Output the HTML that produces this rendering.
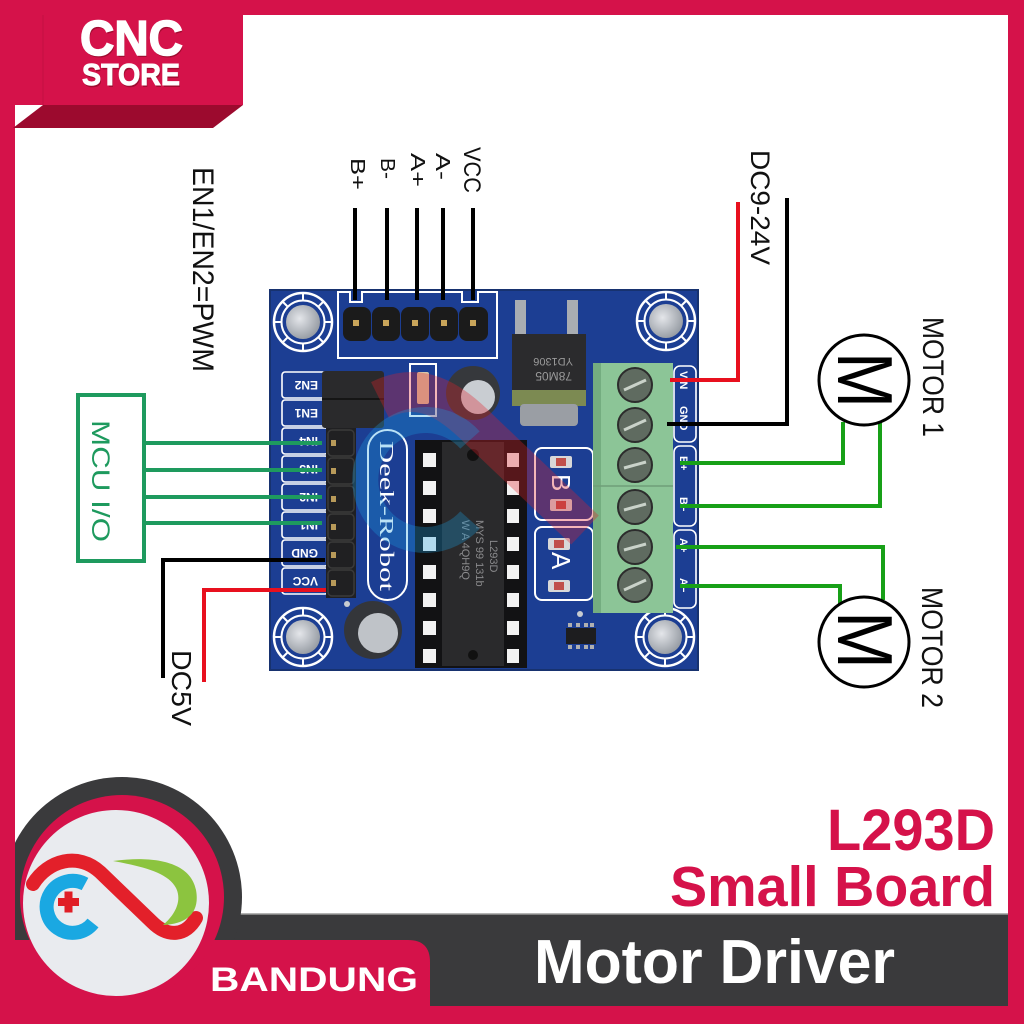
<!DOCTYPE html>
<html><head><meta charset="utf-8"><style>
html,body{margin:0;padding:0;background:#fff;width:1024px;height:1024px;overflow:hidden}
svg{display:block}
text{font-family:"Liberation Sans",sans-serif}
</style></head><body>
<svg width="1024" height="1024" viewBox="0 0 1024 1024" xmlns="http://www.w3.org/2000/svg">
<defs>
<radialGradient id="hg" cx="0.4" cy="0.4" r="0.7"><stop offset="0" stop-color="#e4e6ea"/><stop offset="1" stop-color="#8e949c"/></radialGradient>
<g id="hole">
<circle r="29" fill="none" stroke="#fff" stroke-width="2.5"/>
<circle r="21.5" fill="none" stroke="#fff" stroke-width="2"/>
<g stroke="#fff" stroke-width="2">
<line x1="21" y1="0" x2="29" y2="0"/><line x1="-21" y1="0" x2="-29" y2="0"/>
<line x1="0" y1="21" x2="0" y2="29"/><line x1="0" y1="-21" x2="0" y2="-29"/>
<line x1="15" y1="15" x2="20.5" y2="20.5"/><line x1="-15" y1="15" x2="-20.5" y2="20.5"/>
<line x1="15" y1="-15" x2="20.5" y2="-20.5"/><line x1="-15" y1="-15" x2="-20.5" y2="-20.5"/>
</g>
<circle r="17" fill="url(#hg)"/>
</g>
</defs>

<rect width="1024" height="1024" fill="#fff"/>

<!-- ===== Top-left labels ===== -->
<text transform="translate(193,167) rotate(90)" font-size="30" textLength="205" lengthAdjust="spacingAndGlyphs" fill="#111">EN1/EN2=PWM</text>
<text transform="translate(351,158) rotate(90)" font-size="20" textLength="32" lengthAdjust="spacingAndGlyphs" fill="#111">B+</text>
<text transform="translate(381,158) rotate(90)" font-size="20" textLength="21" lengthAdjust="spacingAndGlyphs" fill="#111">B-</text>
<text transform="translate(411,153) rotate(90)" font-size="20" textLength="34" lengthAdjust="spacingAndGlyphs" fill="#111">A+</text>
<text transform="translate(436,153) rotate(90)" font-size="20" textLength="27" lengthAdjust="spacingAndGlyphs" fill="#111">A-</text>
<text transform="translate(464,147) rotate(90)" font-size="24" textLength="46" lengthAdjust="spacingAndGlyphs" fill="#111">VCC</text>

<!-- ===== PCB ===== -->
<rect x="270" y="290" width="428" height="380" fill="#1c3e93"/>
<rect x="270" y="290" width="428" height="380" fill="none" stroke="#17326f" stroke-width="2"/>
<use href="#hole" x="303" y="322"/>
<use href="#hole" x="666" y="321"/>
<use href="#hole" x="303" y="637"/>
<use href="#hole" x="665" y="637"/>

<!-- header outline -->
<path d="M338 292 H350 V302 H362 V292 H462 V302 H478 V292 H497 V358 H338 Z" fill="none" stroke="#fff" stroke-width="2"/>
<g fill="#1b1b1b">
<rect x="343" y="307" width="28" height="34" rx="8"/>
<rect x="372" y="307" width="28" height="34" rx="8"/>
<rect x="401" y="307" width="28" height="34" rx="8"/>
<rect x="430" y="307" width="28" height="34" rx="8"/>
<rect x="459" y="307" width="29" height="34" rx="8"/>
</g>
<g fill="#c9a55a">
<rect x="353" y="320" width="6" height="6"/><rect x="383" y="320" width="6" height="6"/>
<rect x="412" y="320" width="6" height="6"/><rect x="441" y="320" width="6" height="6"/>
<rect x="470" y="320" width="6" height="6"/>
</g>

<!-- regulator -->
<rect x="515" y="300" width="11" height="40" fill="#a9adb2"/>
<rect x="567" y="300" width="11" height="40" fill="#a9adb2"/>
<rect x="512" y="334" width="74" height="58" fill="#2b2b2d"/>
<rect x="512" y="390" width="74" height="16" fill="#7c8a52"/>
<rect x="520" y="404" width="58" height="22" rx="4" fill="#9a9ea4"/>
<text transform="translate(573,358) rotate(180)" font-size="11" fill="#9a9a9a">YD1306</text>
<text transform="translate(572,372) rotate(180)" font-size="12" fill="#9a9a9a">78M05</text>

<!-- top cap -->
<circle cx="473" cy="393" r="27" fill="#36383c"/>
<circle cx="478" cy="397" r="17" fill="#c9cdd2"/>

<!-- SMD -->
<rect x="410" y="364" width="26" height="52" fill="none" stroke="#fff" stroke-width="2"/>
<rect x="417" y="372" width="12" height="32" rx="2" fill="#d8c8a8"/>

<!-- left labels -->
<g fill="none" stroke="#fff" stroke-width="1.6">
<rect x="282" y="372" width="46" height="26" rx="3"/>
<rect x="282" y="400" width="46" height="26" rx="3"/>
<rect x="282" y="428" width="46" height="26" rx="3"/>
<rect x="282" y="456" width="46" height="26" rx="3"/>
<rect x="282" y="484" width="46" height="26" rx="3"/>
<rect x="282" y="512" width="46" height="26" rx="3"/>
<rect x="282" y="540" width="46" height="26" rx="3"/>
<rect x="282" y="568" width="46" height="26" rx="3"/>
</g>
<g fill="#fff" font-size="12" font-weight="bold">
<text transform="translate(318,381) rotate(180)">EN2</text>
<text transform="translate(318,409) rotate(180)">EN1</text>
<text transform="translate(318,437) rotate(180)">IN4</text>
<text transform="translate(318,465) rotate(180)">IN3</text>
<text transform="translate(318,493) rotate(180)">IN2</text>
<text transform="translate(318,521) rotate(180)">IN1</text>
<text transform="translate(318,549) rotate(180)">GND</text>
<text transform="translate(318,577) rotate(180)">VCC</text>
</g>
<!-- jumper -->
<rect x="322" y="371" width="62" height="57" rx="3" fill="#2a2a2c"/>
<line x1="322" y1="399" x2="384" y2="399" stroke="#151515" stroke-width="2"/>
<!-- pin column -->
<rect x="326" y="428" width="30" height="170" fill="#202022"/>
<g fill="none" stroke="#3a3a3a" stroke-width="1.5">
<rect x="328" y="430" width="26" height="26" rx="4"/><rect x="328" y="458" width="26" height="26" rx="4"/>
<rect x="328" y="486" width="26" height="26" rx="4"/><rect x="328" y="514" width="26" height="26" rx="4"/>
<rect x="328" y="542" width="26" height="26" rx="4"/><rect x="328" y="570" width="26" height="26" rx="4"/>
</g>
<g fill="#b89a5a">
<rect x="331" y="440" width="5" height="6"/><rect x="331" y="468" width="5" height="6"/>
<rect x="331" y="496" width="5" height="6"/><rect x="331" y="524" width="5" height="6"/>
<rect x="331" y="552" width="5" height="6"/><rect x="331" y="580" width="5" height="6"/>
</g>

<!-- Deek-Robot -->
<rect x="368" y="430" width="39" height="170" rx="19.5" fill="none" stroke="#fff" stroke-width="2"/>
<text transform="translate(380,441) rotate(90)" font-size="20" textLength="150" lengthAdjust="spacingAndGlyphs" fill="#fff" style="font-family:'Liberation Serif',serif">Deek-Robot</text>

<!-- IC socket -->
<rect x="415" y="440" width="112" height="228" fill="#121214"/>
<rect x="442" y="442" width="62" height="224" fill="#2a2a2c"/>
<g fill="#f2f2f2">
<rect x="423" y="453" width="13" height="14"/><rect x="423" y="481" width="13" height="14"/>
<rect x="423" y="509" width="13" height="14"/><rect x="423" y="537" width="13" height="14"/>
<rect x="423" y="565" width="13" height="14"/><rect x="423" y="593" width="13" height="14"/>
<rect x="423" y="621" width="13" height="14"/><rect x="423" y="649" width="13" height="14"/>
<rect x="507" y="453" width="12" height="14"/><rect x="507" y="481" width="12" height="14"/>
<rect x="507" y="509" width="12" height="14"/><rect x="507" y="537" width="12" height="14"/>
<rect x="507" y="565" width="12" height="14"/><rect x="507" y="593" width="12" height="14"/>
<rect x="507" y="621" width="12" height="14"/><rect x="507" y="649" width="12" height="14"/>
</g>
<circle cx="473" cy="455" r="6" fill="#111"/>
<circle cx="473" cy="655" r="5" fill="#111"/>
<g fill="#8a8a8c" font-size="11">
<text transform="translate(490,540) rotate(90)">L293D</text>
<text transform="translate(476,520) rotate(90)">MYS 99 131b</text>
<text transform="translate(462,520) rotate(90)">W A 4QH9Q</text>
</g>

<!-- B / A boxes -->
<rect x="535" y="448" width="58" height="72" rx="7" fill="none" stroke="#fff" stroke-width="2"/>
<rect x="535" y="527" width="58" height="73" rx="7" fill="none" stroke="#fff" stroke-width="2"/>
<text transform="translate(552,474) rotate(90)" font-size="26" fill="#fff">B</text>
<text transform="translate(552,552) rotate(90)" font-size="26" fill="#fff">A</text>
<g fill="#d8d8d8"><rect x="550" y="456" width="22" height="12" rx="2"/><rect x="550" y="499" width="22" height="12" rx="2"/><rect x="548" y="538" width="22" height="12" rx="2"/><rect x="548" y="580" width="22" height="12" rx="2"/></g>
<g fill="#c0504a"><rect x="556" y="458" width="10" height="8"/><rect x="556" y="501" width="10" height="8"/><rect x="554" y="540" width="10" height="8"/><rect x="554" y="582" width="10" height="8"/></g>

<!-- terminal block -->
<rect x="593" y="363" width="80" height="250" fill="#8cc597"/>
<rect x="593" y="363" width="8" height="250" fill="#74ad80"/>
<line x1="593" y1="486" x2="673" y2="486" stroke="#6e9e78" stroke-width="1.5"/>
<g fill="#5f6b60" stroke="#2c2c2c" stroke-width="2">
<circle cx="635" cy="385" r="17"/><circle cx="635" cy="425" r="17"/>
<circle cx="635" cy="465" r="17"/><circle cx="635" cy="507" r="17"/>
<circle cx="635" cy="547" r="17"/><circle cx="635" cy="585" r="17"/>
</g>
<g stroke="#c9d2c9" stroke-width="3">
<line x1="624" y1="390" x2="646" y2="380"/><line x1="624" y1="430" x2="646" y2="420"/>
<line x1="624" y1="468" x2="646" y2="462"/><line x1="624" y1="510" x2="646" y2="504"/>
<line x1="624" y1="550" x2="646" y2="544"/><line x1="624" y1="590" x2="646" y2="580"/>
</g>
<g fill="none" stroke="#fff" stroke-width="1.6">
<rect x="674" y="366" width="22" height="76" rx="6"/>
<rect x="674" y="446" width="22" height="80" rx="6"/>
<rect x="674" y="530" width="22" height="78" rx="6"/>
</g>
<g fill="#fff" font-size="11" font-weight="bold">
<text transform="translate(680,371) rotate(90)">VIN</text>
<text transform="translate(680,406) rotate(90)">GND</text>
<text transform="translate(680,456) rotate(90)">B+</text>
<text transform="translate(680,497) rotate(90)">B−</text>
<text transform="translate(680,538) rotate(90)">A+</text>
<text transform="translate(680,578) rotate(90)">A−</text>
</g>

<!-- bottom cap & small IC -->
<circle cx="373" cy="630" r="29" fill="#34363a"/>
<circle cx="378" cy="633" r="20" fill="#bfc3c8"/>
<rect x="566" y="628" width="30" height="16" fill="#1d1d1f"/>
<g fill="#b0b0b0"><rect x="568" y="623" width="4" height="4"/><rect x="576" y="623" width="4" height="4"/><rect x="584" y="623" width="4" height="4"/><rect x="590" y="623" width="4" height="4"/><rect x="568" y="645" width="4" height="4"/><rect x="576" y="645" width="4" height="4"/><rect x="584" y="645" width="4" height="4"/><rect x="590" y="645" width="4" height="4"/></g>
<circle cx="580" cy="614" r="3" fill="#c8ccd0"/>
<circle cx="347" cy="604" r="3" fill="#c8ccd0"/>

<!-- watermark -->
<path d="M380 400 C420 380, 450 400, 480 430 L585 530" fill="none" stroke="#e0202a" stroke-width="40" opacity="0.33"/>
<path d="M470 440 A60 60 0 1 0 470 520" fill="none" stroke="#1a9fe0" stroke-width="26" opacity="0.3"/>

<!-- header wires -->
<g stroke="#000" stroke-width="4">
<line x1="355" y1="208" x2="355" y2="300"/>
<line x1="387" y1="208" x2="387" y2="300"/>
<line x1="417" y1="208" x2="417" y2="300"/>
<line x1="443" y1="208" x2="443" y2="300"/>
<line x1="473" y1="208" x2="473" y2="300"/>
</g>

<!-- ===== MCU ===== -->
<rect x="78" y="395" width="66" height="166" fill="none" stroke="#1e9a5e" stroke-width="4"/>
<text transform="translate(92,420) rotate(90)" font-size="25" textLength="122" lengthAdjust="spacingAndGlyphs" fill="#1e9a5e">MCU I/O</text>
<g stroke="#1e9a5e" stroke-width="4">
<line x1="144" y1="443" x2="322" y2="443"/>
<line x1="144" y1="470" x2="322" y2="470"/>
<line x1="144" y1="497" x2="322" y2="497"/>
<line x1="144" y1="523" x2="322" y2="523"/>
</g>
<polyline points="325,560 163,560 163,678" fill="none" stroke="#000" stroke-width="4"/>
<polyline points="326,590 204,590 204,682" fill="none" stroke="#e8101e" stroke-width="4"/>
<text transform="translate(172,650) rotate(90)" font-size="28" textLength="76" lengthAdjust="spacingAndGlyphs" fill="#111">DC5V</text>

<!-- ===== Right side ===== -->
<polyline points="670,380 738,380 738,202" fill="none" stroke="#e8101e" stroke-width="4"/>
<polyline points="667,424 787,424 787,198" fill="none" stroke="#000" stroke-width="4"/>
<text transform="translate(751,150) rotate(90)" font-size="27" textLength="115" lengthAdjust="spacingAndGlyphs" fill="#111">DC9-24V</text>

<g fill="none" stroke="#18a018" stroke-width="4">
<polyline points="680,463 843,463 843,422"/>
<polyline points="680,506 880,506 880,422"/>
<polyline points="676,547 883,547 883,600"/>
<polyline points="680,586 840,586 840,604"/>
</g>
<circle cx="864" cy="380" r="45" fill="#fff" stroke="#000" stroke-width="3"/>
<circle cx="864" cy="642" r="45" fill="#fff" stroke="#000" stroke-width="3"/>
<text transform="translate(838,380) rotate(90)" font-size="78" text-anchor="middle" textLength="56" lengthAdjust="spacingAndGlyphs" fill="#000">M</text>
<text transform="translate(838,640) rotate(90)" font-size="78" text-anchor="middle" textLength="58" lengthAdjust="spacingAndGlyphs" fill="#000">M</text>
<text transform="translate(923,317) rotate(90)" font-size="30" textLength="120" lengthAdjust="spacingAndGlyphs" fill="#111">MOTOR 1</text>
<text transform="translate(922,587) rotate(90)" font-size="30" textLength="121" lengthAdjust="spacingAndGlyphs" fill="#111">MOTOR 2</text>

<!-- ===== Bottom banner ===== -->
<rect x="120" y="914" width="888" height="92" fill="#3a3a3c"/>
<line x1="215" y1="914" x2="1008" y2="914" stroke="#9a9a9a" stroke-width="1.5"/>
<circle cx="122" cy="897" r="120" fill="#3a3a3c"/>
<path d="M15 940 H408 Q430 940 430 962 V1024 H15 Z" fill="#d5124a"/>
<circle cx="122" cy="897" r="102" fill="#d5124a"/>
<circle cx="116" cy="903" r="93" fill="#e9ebef"/>

<!-- logo -->
<path d="M85 884 A26 26 0 1 0 93 923" fill="none" stroke="#1aa8e2" stroke-width="14"/>
<path d="M33 884 C48 860, 78 852, 100 872 L152 922 C168 938, 186 936, 196 918" fill="none" stroke="#e3202a" stroke-width="14" stroke-linecap="round"/>
<path d="M113 861 C150 856, 190 860, 196 890 C200 912, 188 924, 163 925 C176 914, 182 900, 176 888 C168 872, 140 866, 113 861 Z" fill="#8cc43f"/>
<rect x="58" y="898" width="21" height="8" fill="#e01e26"/>
<rect x="64.5" y="891.5" width="8" height="21" fill="#e01e26"/>

<text x="210" y="991" font-size="34" font-weight="bold" textLength="208" lengthAdjust="spacingAndGlyphs" fill="#fff">BANDUNG</text>
<text x="995" y="850" font-size="58" font-weight="bold" text-anchor="end" textLength="168" lengthAdjust="spacingAndGlyphs" fill="#d5124a">L293D</text>
<text x="995" y="906" font-size="57" font-weight="bold" text-anchor="end" textLength="325" lengthAdjust="spacingAndGlyphs" fill="#d5124a">Small Board</text>
<text x="534" y="983" font-size="62" font-weight="bold" textLength="361" lengthAdjust="spacingAndGlyphs" fill="#fff">Motor Driver</text>

<!-- ===== Frame ===== -->
<rect x="0" y="0" width="1024" height="15" fill="#d5124a"/>
<rect x="0" y="0" width="15" height="1024" fill="#d5124a"/>
<rect x="1008" y="0" width="16" height="1024" fill="#d5124a"/>
<rect x="0" y="1006" width="1024" height="18" fill="#d5124a"/>

<!-- top-left logo -->
<rect x="15" y="0" width="228" height="105" fill="#d5124a"/>
<line x1="43" y1="15" x2="43" y2="105" stroke="#c41043" stroke-width="1"/>
<polygon points="43,105 243,105 213,128 13,128" fill="#9c0a2e"/>
<text x="81" y="57" font-size="49" font-weight="bold" textLength="103" lengthAdjust="spacingAndGlyphs" fill="#a00c30">CNC</text>
<text x="80" y="55" font-size="49" font-weight="bold" textLength="103" lengthAdjust="spacingAndGlyphs" fill="#fff" stroke="#fff" stroke-width="1.5">CNC</text>
<text x="83" y="87" font-size="31" font-weight="bold" textLength="98" lengthAdjust="spacingAndGlyphs" fill="#a00c30">STORE</text>
<text x="82" y="85" font-size="31" font-weight="bold" textLength="98" lengthAdjust="spacingAndGlyphs" fill="#fff" stroke="#fff" stroke-width="1">STORE</text>
</svg>
</body></html>
